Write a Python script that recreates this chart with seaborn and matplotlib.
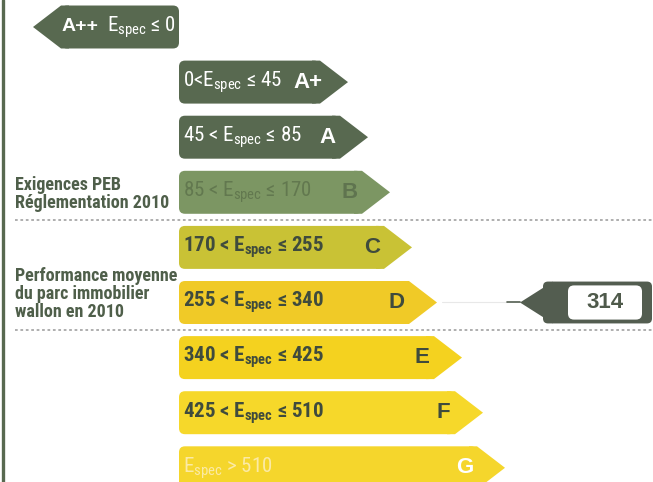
"""
Étiquette PEB (classes énergétiques A++ à G) avec la position du score 314.
Writes: out.png
"""
import matplotlib
matplotlib.use("Agg")
import matplotlib.pyplot as plt
import pandas as pd
import seaborn as sns
from matplotlib.patches import FancyBboxPatch, Polygon

# ---- data ----------------------------------------------------------------
CLASSES = ["A++", "A+", "A", "B", "C", "D", "E", "F", "G"]
RANGES = [
    "{E} ≤ 0",
    "0<{E} ≤ 45",
    "45 < {E} ≤ 85",
    "85 < {E} ≤ 170",
    "170 < {E} ≤ 255",
    "255 < {E} ≤ 340",
    "340 < {E} ≤ 425",
    "425 < {E} ≤ 510",
    "{E} > 510",
]
# tip of each arrow, measured from the common left edge of the bars (px)
TIPS = [-146, 169, 189, 211, 233, 258, 283, 304, 326]
BAR_COLORS = ["#586950", "#586950", "#586950", "#7c9663", "#c9c235",
              "#f0ca27", "#f4d21f", "#f6d82a", "#f5d62c"]
TEXT_COLORS = ["white", "white", "white", "#62784f", "#3f4b3d",
               "#3f4b3d", "#3f4b3d", "#3f4b3d", "#fbeaa6"]
LETTER_COLORS = ["white", "white", "white", "#5f744f", "#3f4b3d",
                 "#3f4b3d", "#3f4b3d", "#3f4b3d", "white"]
BOLD_RANGE = [False, False, False, False, True, True, True, True, False]

SCORE = 314
SCORE_CLASS = "D"

NOTES = ["Exigences PEB\nRéglementation 2010",
         "Performance moyenne\ndu parc immobilier\nwallon en 2010"]
NOTE_ROWS = [3.03, 4.85]
NOTE_LINES = [3.5, 5.5]

# ---- layout --------------------------------------------------------------
FIG_W, FIG_H, DPI = 6.53, 4.82, 100
BASE_X = 179          # px from the left border to the bars
ROW_PX = 55.1         # vertical pitch of the rows (px)
BAR_W = 0.78
POINT = 28            # length of the arrow point (px)
DARK = "#586950"
NOTE_COLOR = "#4f5f4a"
NARROW = ["Roboto Condensed", "Liberation Sans", "DejaVu Sans"]

sns.set_theme(style="white")
plt.rcParams["font.family"] = NARROW
plt.rcParams["mathtext.fontset"] = "custom"
plt.rcParams["mathtext.rm"] = "Roboto Condensed"
plt.rcParams["mathtext.bf"] = "Roboto Condensed:bold"

df = pd.DataFrame({"classe": CLASSES, "pointe": TIPS})
df["corps"] = [t - POINT if t > 0 else t + POINT for t in TIPS]

fig = plt.figure(figsize=(FIG_W, FIG_H), dpi=DPI)
ax = fig.add_axes([0, 0, 1, 1])

sns.barplot(data=df, x="corps", y="classe", hue="classe", palette=BAR_COLORS,
            orient="h", width=BAR_W, errorbar=None, legend=False,
            saturation=1, ax=ax)

ax.set_xlim(-BASE_X, FIG_W * DPI - BASE_X)
top_row = -27 / ROW_PX
ax.set_ylim(top_row + FIG_H * DPI / ROW_PX, top_row)
ax.axis("off")

aspect = 1 / ROW_PX
for bar in list(ax.patches):
    x0, w = bar.get_x(), bar.get_width()
    y0, h = bar.get_y(), bar.get_height()
    i = int(round(y0 + h / 2))
    left, right = min(x0, x0 + w), max(x0, x0 + w)
    bar.set_visible(False)
    col = BAR_COLORS[i]
    ax.add_patch(FancyBboxPatch((left, y0), right - left, h,
                                boxstyle="round,pad=0,rounding_size=6",
                                mutation_aspect=aspect, fc=col, ec="none"))
    tip = TIPS[i]
    if w > 0:
        pts = [(right - 8, y0), (right, y0), (tip, y0 + h / 2),
               (right, y0 + h), (right - 8, y0 + h)]
    else:
        pts = [(left + 8, y0), (left, y0), (tip, y0 + h / 2),
               (left, y0 + h), (left + 8, y0 + h)]
    ax.add_patch(Polygon(pts, closed=True, fc=col, ec="none"))

    bold = BOLD_RANGE[i]
    e_sym = r"$\mathbf{E}_{\mathbf{spec}}$" if bold else r"$\mathrm{E}_{\mathrm{spec}}$"
    label = RANGES[i].replace("{E}", e_sym)
    if i == 0:
        ax.text(left + 1, i, "A++", ha="left", va="center", color="white",
                fontsize=14, fontweight="bold", family="Liberation Sans")
        ax.text(left + 46, i, label, ha="left", va="center",
                color=TEXT_COLORS[i], fontsize=15)
    else:
        ax.text(4, i, label, ha="left", va="center", color=TEXT_COLORS[i],
                fontsize=15, fontweight="bold" if bold else "normal")
        ax.text(tip - 40, i, CLASSES[i], ha="center", va="center",
                color=LETTER_COLORS[i], fontsize=16, fontweight="bold",
                family="Liberation Sans")

# notes on the left and dotted separators
for note, r, line_r in zip(NOTES, NOTE_ROWS, NOTE_LINES):
    ax.text(15 - BASE_X, r, note, ha="left", va="center", color=NOTE_COLOR,
            fontsize=13, fontweight="bold", linespacing=1.0)
    ax.plot([15 - BASE_X, FIG_W * DPI - BASE_X], [line_r, line_r],
            color="#a8a8a8", lw=1.3, ls=(0, (1.5, 1.5)))

# left border
ax.axvline(3 - BASE_X, color=DARK, lw=2.4)

# score marker
k = CLASSES.index(SCORE_CLASS)
s_tip, s_corner, s_end = 341, 374, 473
hh = 0.38
ax.plot([TIPS[k] + 5, s_tip - 13], [k, k], color="#e8e8e8", lw=0.8)
ax.plot([s_tip - 13, s_tip], [k, k], color="#535d50", lw=1.2)
ax.add_patch(FancyBboxPatch((s_corner - 10, k - hh), s_end - s_corner + 10, 2 * hh,
                            boxstyle="round,pad=0,rounding_size=5",
                            mutation_aspect=aspect, fc="#535d50", ec="none"))
ax.add_patch(Polygon([(s_corner, k - hh), (s_tip, k), (s_corner, k + hh)],
                     closed=True, fc="#535d50", ec="none"))
ax.add_patch(FancyBboxPatch((389, k - 0.31), 74, 0.62,
                            boxstyle="round,pad=0,rounding_size=6",
                            mutation_aspect=aspect, fc="white", ec="none"))
ax.text(426, k, str(SCORE), ha="center", va="center", color="#4f5a4b",
        fontsize=16, fontweight="bold", family="Liberation Sans")

fig.savefig("out.png", dpi=DPI)
